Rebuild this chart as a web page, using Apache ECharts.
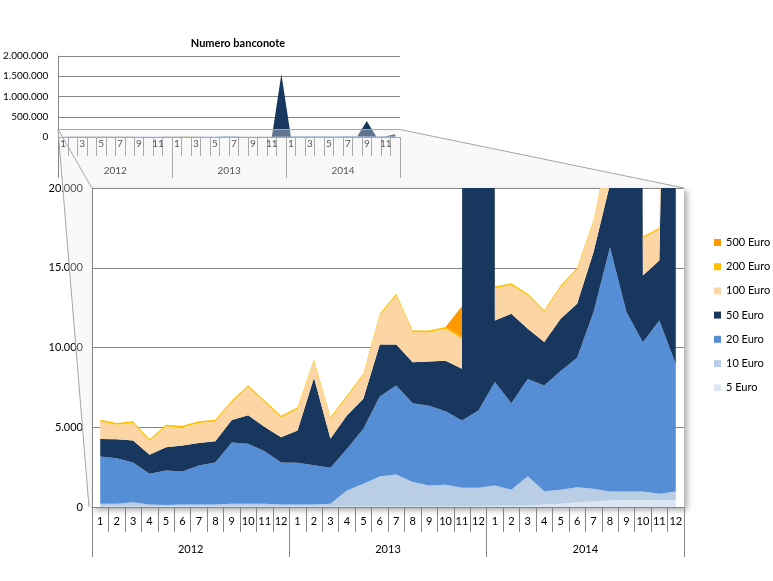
<!DOCTYPE html>
<html>
<head>
<meta charset="utf-8">
<script src="https://cdn.jsdelivr.net/npm/echarts@6/dist/echarts.min.js"></script>
<style>html,body{margin:0;padding:0;background:#fff;}#c{width:773px;height:581px;}</style>
</head>
<body>
<div id="c"></div>
<script>
// ---- data ----
const years = ['2012', '2013', '2014'];
const monthLabels = ['1','2','3','4','5','6','7','8','9','10','11','12',
                     '1','2','3','4','5','6','7','8','9','10','11','12',
                     '1','2','3','4','5','6','7','8','9','10','11','12'];
const seriesNames = ['5 Euro', '10 Euro', '20 Euro', '50 Euro', '100 Euro', '200 Euro', '500 Euro'];
const legendOrder = ['500 Euro', '200 Euro', '100 Euro', '50 Euro', '20 Euro', '10 Euro', '5 Euro'];
const yTicksMain = [0, 5000, 10000, 15000, 20000];
const yTicksOverview = [0, 500000, 1000000, 1500000, 2000000];

const euro5 = [30,30,30,30,30,30,30,30,30,30,30,30,
               30,30,30,40,40,50,50,50,50,60,60,60,
               80,80,100,150,200,300,350,400,420,430,400,400];
const euro10 = [170,170,270,120,100,120,120,120,170,170,170,120,
                130,130,170,990,1410,1860,1990,1510,1300,1330,1140,1140,
                1270,1000,1830,840,880,940,790,570,550,540,430,570];
const euro20 = [2970,2860,2490,1930,2160,2080,2450,2640,3840,3760,3300,2640,
                2610,2450,2260,2610,3450,5020,5580,4950,5000,4620,4220,4850,
                6480,5430,6100,6630,7440,8110,11080,15320,11250,9360,10870,8000];
const euro50 = [1090,1190,1380,1190,1460,1630,1420,1340,1420,1800,1510,1590,
                2030,5500,1820,2090,1880,3260,2570,2570,2780,3160,3240,1550000,
                3870,5600,3140,2720,3280,3390,3760,3960,385000,4180,3760,60000];
const euro100 = [1100,910,1100,870,1290,1120,1250,1230,1100,1770,1560,1230,
                 1350,1040,1250,1140,1460,1810,3070,1880,1830,2000,1880,3000,
                 2020,1810,2090,1880,1980,2150,1890,2720,3000,2340,1940,15000];
const euro200 = [110,110,110,110,110,110,110,110,110,110,110,110,
                 110,110,110,110,110,110,110,110,110,110,110,110,
                 110,110,110,110,110,110,110,110,110,110,110,110];
const euro500 = [0,0,0,0,0,0,0,0,0,0,0,0,
                 0,0,0,0,0,0,0,0,0,0,1950,0,
                 0,0,0,0,0,0,0,0,0,0,0,0];

const values = [euro5, euro10, euro20, euro50, euro100, euro200, euro500];
const colors = ['#DCE6F2', '#B9CDE5', '#558ED5', '#17375E', '#FCD5A5', '#FFC000', '#FF9900'];

// ---- helpers ----
const FONT = 'Lato, "Liberation Sans", sans-serif';
const fmt = v => String(v).replace(/\B(?=(\d{3})+(?!\d))/g, '.');
const GRAY = '#868686';

function makeSeries(xi, yi, stack) {
  return seriesNames.map((n, i) => ({
    name: n,
    type: 'line',
    xAxisIndex: xi,
    yAxisIndex: yi,
    stack: stack,
    data: values[i],
    symbol: 'none',
    clip: true,
    itemStyle: { color: colors[i] },
    lineStyle: { width: 0, color: colors[i] },
    areaStyle: { color: colors[i], opacity: 1 },
    emphasis: { disabled: true },
    z: 2
  }));
}

const chart = echarts.init(document.getElementById('c'), null, { renderer: 'canvas' });

const option = {
  animation: false,
  backgroundColor: '#ffffff',
  textStyle: { fontFamily: FONT },
  title: {
    text: 'Numero banconote',
    left: 233, top: 33, textAlign: 'center',
    textStyle: { fontFamily: FONT, fontSize: 11, fontWeight: 'bold', color: '#000' }
  },
  legend: {
    data: legendOrder,
    orient: 'vertical',
    left: 709, top: 232,
    icon: 'rect',
    itemWidth: 7, itemHeight: 7, itemGap: 13.2,
    textStyle: { fontFamily: FONT, fontSize: 11, color: '#000' }
  },
  grid: [
    { left: 58, top: 56, width: 342, height: 81, show: false },
    { left: 92, top: 188, width: 592, height: 319, show: true, backgroundColor: '#ffffff',
      borderWidth: 0, shadowBlur: 6, shadowColor: 'rgba(0,0,0,0.35)', shadowOffsetX: 3, shadowOffsetY: 3 }
  ],
  xAxis: [
    { gridIndex: 0, type: 'category', data: monthLabels, boundaryGap: true,
      axisLine: { show: true, lineStyle: { color: GRAY } },
      axisTick: { show: true, interval: 0, length: 19, lineStyle: { color: GRAY } },
      axisLabel: { interval: 1, margin: 2, fontSize: 10, color: '#000', fontFamily: FONT },
      splitLine: { show: false } },
    { gridIndex: 0, type: 'category', data: years, boundaryGap: true, position: 'bottom',
      axisLine: { show: false },
      axisTick: { show: true, interval: 0, length: 41, lineStyle: { color: GRAY } },
      axisLabel: { interval: 0, margin: 29, fontSize: 10, color: '#000', fontFamily: FONT } },
    { gridIndex: 1, type: 'category', data: monthLabels, boundaryGap: true,
      axisLine: { show: true, lineStyle: { color: GRAY } },
      axisTick: { show: true, interval: 0, length: 25, lineStyle: { color: GRAY } },
      axisLabel: { interval: 0, margin: 9, fontSize: 11, color: '#000', fontFamily: FONT },
      splitLine: { show: false } },
    { gridIndex: 1, type: 'category', data: years, boundaryGap: true, position: 'bottom',
      axisLine: { show: false },
      axisTick: { show: true, interval: 0, length: 50, lineStyle: { color: GRAY } },
      axisLabel: { interval: 0, margin: 37, fontSize: 11, color: '#000', fontFamily: FONT } }
  ],
  yAxis: [
    { gridIndex: 0, type: 'value', min: yTicksOverview[0], max: yTicksOverview[yTicksOverview.length - 1],
      interval: yTicksOverview[1] - yTicksOverview[0],
      axisLine: { show: true, lineStyle: { color: GRAY } },
      axisTick: { show: false },
      axisLabel: { formatter: fmt, fontSize: 10, margin: 10, color: '#000', fontFamily: FONT },
      splitLine: { show: true, lineStyle: { color: GRAY } } },
    { gridIndex: 1, type: 'value', min: yTicksMain[0], max: yTicksMain[yTicksMain.length - 1],
      interval: yTicksMain[1] - yTicksMain[0],
      axisLine: { show: true, lineStyle: { color: GRAY } },
      axisTick: { show: false },
      axisLabel: { formatter: fmt, fontSize: 11, margin: 9, color: '#000', fontFamily: FONT },
      splitLine: { show: true, lineStyle: { color: GRAY } } }
  ],
  series: [].concat(makeSeries(0, 0, 'ov'), makeSeries(2, 1, 'main')),
  graphic: [
    { type: 'polygon', z: 50, silent: true,
      shape: { points: [[58,129],[400,129],[684,188],[92,188],[92,507],[89,507]] },
      style: { fill: 'rgba(236,236,236,0.34)', stroke: 'none' } },
    { type: 'polyline', z: 51, silent: true,
      shape: { points: [[58,129.5],[400,129.5],[684,188]] },
      style: { stroke: '#a6a6a6', lineWidth: 1, fill: null } },
    { type: 'line', z: 51, silent: true,
      shape: { x1: 58, y1: 129.5, x2: 92, y2: 188 },
      style: { stroke: '#a6a6a6', lineWidth: 1 } },
    { type: 'line', z: 51, silent: true,
      shape: { x1: 58, y1: 129.5, x2: 89, y2: 507 },
      style: { stroke: '#a6a6a6', lineWidth: 1 } }
  ]
};

chart.setOption(option);
</script>
</body>
</html>
